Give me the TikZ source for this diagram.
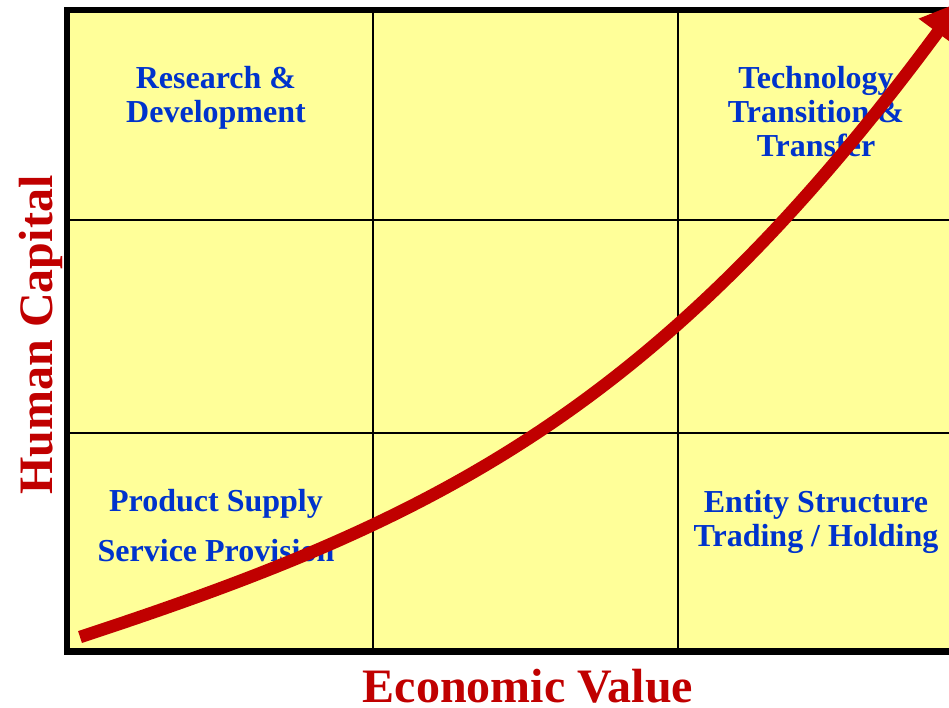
\documentclass[tikz,border=0pt]{standalone}
\usepackage{fontspec}
\setmainfont{Liberation Serif}
\usetikzlibrary{positioning}
\usetikzlibrary{arrows.meta}
\definecolor{padyellow}{HTML}{FFFF99}
\definecolor{labelblue}{HTML}{0033CC}
\definecolor{axisred}{HTML}{C00000}
\tikzset{
    every picture/.style={>=stealth,x=1pt,y=1pt},
    cell/.style={text=labelblue,font=\fontsize{32}{34}\selectfont\bfseries,align=center,inner sep=0pt},
    axislabel/.style={text=axisred,font=\fontsize{48}{50}\selectfont\bfseries,inner sep=0pt},
    growth/.style={draw=axisred,line width=12.5pt,-{Triangle[length=38pt,width=44pt]}},
}
\begin{document}
\begin{tikzpicture}
\useasboundingbox (0,0) rectangle (949,707);
\fill[padyellow] (67,55.5) rectangle (955,697);

% grid
\draw[line width=2pt] (373,55.5) -- (373,697) (678,55.5) -- (678,697)
  (67,487) -- (955,487) (67,274) -- (955,274);
\draw[line width=6.5pt] (958,697) -- (67,697) -- (67,55.5) -- (958,55.5);

\node[cell] (rd) at (216,609) {Research \&\\Development};
\node[cell] (ttt) at (816,595) {Technology\\Transition \&\\Transfer};
\node[cell] (ps) at (216,181) {Product Supply\\[16pt]Service Provision};
\node[cell] (es) at (816,185.5) {Entity Structure\\Trading / Holding};

\node[axislabel,anchor=base] (ev) at (528,5) {Economic Value};
\node[axislabel,anchor=base,rotate=90] (hc) at (52,372) {Human Capital};

\coordinate (low) at (80,70);
\coordinate (high) at (960,705);
\draw[growth] (low) .. controls (430,185) and (655,292) .. (high);

\end{tikzpicture}
\end{document}
